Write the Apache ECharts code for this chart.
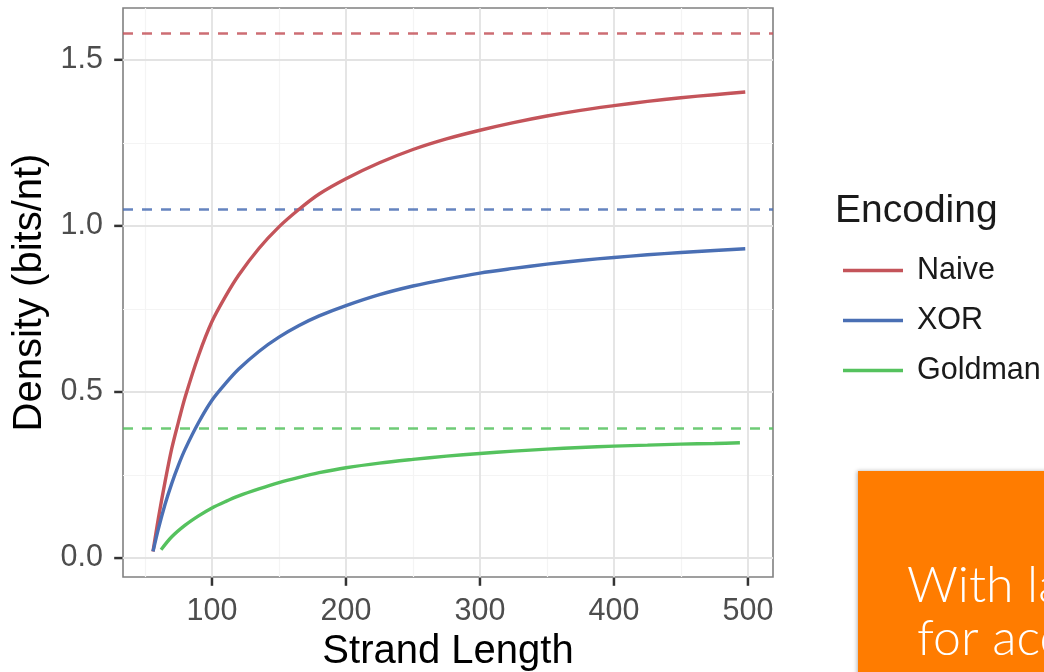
<!DOCTYPE html>
<html>
<head>
<meta charset="utf-8">
<script src="https://cdn.jsdelivr.net/npm/echarts@6/dist/echarts.min.js"></script>
<style>
  html, body { margin: 0; padding: 0; background: #ffffff; }
  #chart { width: 1044px; height: 672px; }
</style>
</head>
<body>
<div id="chart"></div>
<script>
// Strand length (nt) vs. information density (bits/nt) for three encodings
const lengths = [56, 60, 65, 70, 75, 80, 90, 100, 110, 120, 135, 150, 165, 180, 200, 225, 250, 275, 300, 325, 350, 375, 400, 425, 450, 475, 498];
const naiveDensity = [0.02, 0.12, 0.23, 0.33, 0.41, 0.485, 0.61, 0.712, 0.787, 0.852, 0.932, 0.997, 1.05, 1.096, 1.142, 1.19, 1.23, 1.262, 1.288, 1.311, 1.331, 1.348, 1.362, 1.375, 1.386, 1.395, 1.403];
const xorDensity = [0.02, 0.088, 0.162, 0.225, 0.28, 0.328, 0.408, 0.475, 0.525, 0.569, 0.622, 0.665, 0.70, 0.729, 0.76, 0.793, 0.819, 0.84, 0.858, 0.872, 0.885, 0.896, 0.905, 0.913, 0.92, 0.926, 0.931];
const goldmanLengths = [62, 70, 80, 90, 100, 110, 120, 135, 150, 165, 180, 200, 225, 250, 275, 300, 325, 350, 375, 400, 425, 450, 475, 494];
const goldmanDensity = [0.025, 0.064, 0.099, 0.127, 0.151, 0.17, 0.187, 0.208, 0.227, 0.243, 0.257, 0.272, 0.286, 0.297, 0.307, 0.315, 0.322, 0.328, 0.333, 0.337, 0.340, 0.343, 0.345, 0.347];

// Asymptotic density of each encoding (dashed reference lines)
const naiveLimit = 1.58;
const xorLimit = 1.05;
const goldmanLimit = 0.39;

const encodings = ['Naive', 'XOR', 'Goldman'];

// Axis ticks and panel grid lines
const xTicks = [100, 200, 300, 400, 500];
const yTicks = [0, 0.5, 1.0, 1.5];
const xMinor = [50, 150, 250, 350, 450];
const yMinor = [0.25, 0.75, 1.25];

// Axis extents
const xMin = 33.6, xMax = 518.7;
const yMin = -0.057, yMax = 1.656;

const colors = { Naive: '#c4545a', XOR: '#4a6fb4', Goldman: '#55c25e' };
const fontFamily = '"Liberation Sans", Arial, sans-serif';
const frameColor = '#808080';
const tickColor = '#333333';
const tickLength = 8;
const tickWidth = 2.5;

function pairs(xs, ys) { return xs.map((x, i) => [x, ys[i]]); }

function gridLines(values, axisKey, color, width) {
  return values.map(v => ({ [axisKey]: v, lineStyle: { color: color, width: width, type: 'solid' } }));
}

function curve(name, xs, ys, limit) {
  return {
    name: name,
    type: 'line',
    data: pairs(xs, ys),
    smooth: 0.3,
    symbol: 'none',
    z: 5,
    lineStyle: { color: colors[name], width: 3.4 },
    itemStyle: { color: colors[name] },
    markLine: {
      silent: true,
      symbol: 'none',
      label: { show: false },
      animation: false,
      data: [{ yAxis: limit }],
      lineStyle: { color: colors[name], width: 2.6, type: [10, 9], opacity: 0.85 }
    }
  };
}

// Short bars sitting on the panel edge, pushed outward, used as tick marks
function tickMarks(id, points, size, offset) {
  return {
    id: id,
    type: 'scatter',
    data: points,
    silent: true,
    clip: false,
    z: 20,
    symbol: 'rect',
    symbolSize: size,
    symbolOffset: offset,
    itemStyle: { color: tickColor, opacity: 1 },
    emphasis: { disabled: true }
  };
}

const chart = echarts.init(document.getElementById('chart'), null, { renderer: 'canvas' });

chart.setOption({
  animation: false,
  backgroundColor: '#ffffff',
  textStyle: { fontFamily: fontFamily },
  title: {
    text: 'Encoding',
    left: 830,
    top: 187,
    textStyle: { fontSize: 39, fontWeight: 'normal', color: '#1a1a1a', fontFamily: fontFamily }
  },
  legend: {
    data: encodings,
    orient: 'vertical',
    left: 838,
    top: 250,
    icon: 'rect',
    itemWidth: 60,
    itemHeight: 3.5,
    itemGap: 19,
    selectedMode: false,
    textStyle: { fontSize: 30.5, color: '#1a1a1a', fontFamily: fontFamily, padding: [0, 0, 0, 9] }
  },
  grid: {
    left: 123,
    top: 8,
    right: 271,
    bottom: 95,
    show: true,
    borderColor: frameColor,
    borderWidth: 1.6,
    backgroundColor: '#ffffff',
    containLabel: false,
    outerBoundsMode: 'none'
  },
  xAxis: {
    type: 'value',
    min: xMin,
    max: xMax,
    name: 'Strand Length',
    nameLocation: 'middle',
    nameGap: 19,
    nameTextStyle: { fontSize: 40, color: '#000000', fontFamily: fontFamily },
    axisLine: { show: false, onZero: false },
    splitLine: { show: false },
    axisTick: { show: false },
    axisLabel: { show: true, customValues: xTicks, margin: 19, fontSize: 30.5, color: '#4d4d4d', fontFamily: fontFamily }
  },
  yAxis: {
    type: 'value',
    min: yMin,
    max: yMax,
    name: 'Density (bits/nt)',
    nameLocation: 'middle',
    nameGap: 70,
    nameTextStyle: { fontSize: 40, color: '#000000', fontFamily: fontFamily },
    axisLine: { show: false, onZero: false },
    splitLine: { show: false },
    axisTick: { show: false },
    axisLabel: {
      show: true, customValues: yTicks, margin: 20, fontSize: 30.5, color: '#4d4d4d', fontFamily: fontFamily,
      formatter: v => Number(v).toFixed(1)
    }
  },
  series: [
    {
      name: 'panel-grid',
      type: 'line',
      data: [],
      silent: true,
      z: 1,
      markLine: {
        silent: true,
        symbol: 'none',
        label: { show: false },
        animation: false,
        data: [].concat(
          gridLines(xMinor, 'xAxis', '#f4f4f4', 1.2),
          gridLines(yMinor, 'yAxis', '#f4f4f4', 1.2),
          gridLines(xTicks, 'xAxis', '#e3e3e3', 1.8),
          gridLines(yTicks, 'yAxis', '#e3e3e3', 1.8)
        )
      }
    },
    curve('Naive', lengths, naiveDensity, naiveLimit),
    curve('XOR', lengths, xorDensity, xorLimit),
    curve('Goldman', goldmanLengths, goldmanDensity, goldmanLimit),
    tickMarks('x-ticks', xTicks.map(v => [v, yMin]), [tickWidth, tickLength], [0, tickLength / 2 + 0.8]),
    tickMarks('y-ticks', yTicks.map(v => [xMin, v]), [tickLength, tickWidth], [-(tickLength / 2 + 0.8), 0])
  ],
  graphic: [
    {
      type: 'rect',
      left: 858,
      top: 471,
      shape: { width: 200, height: 210 },
      style: { fill: '#ff7c00', shadowBlur: 4, shadowColor: 'rgba(0,0,0,0.3)', shadowOffsetX: -1 },
      z: 10
    },
    {
      type: 'text',
      x: 907,
      y: 561,
      style: { text: 'With larger', fill: '#ffffff', font: '300 50px Lato, "Open Sans", sans-serif', verticalAlign: 'top' },
      z: 11
    },
    {
      type: 'text',
      x: 917,
      y: 614,
      style: { text: 'for accurate', fill: '#ffffff', font: '300 50px Lato, "Open Sans", sans-serif', verticalAlign: 'top' },
      z: 11
    }
  ]
});
</script>
</body>
</html>
